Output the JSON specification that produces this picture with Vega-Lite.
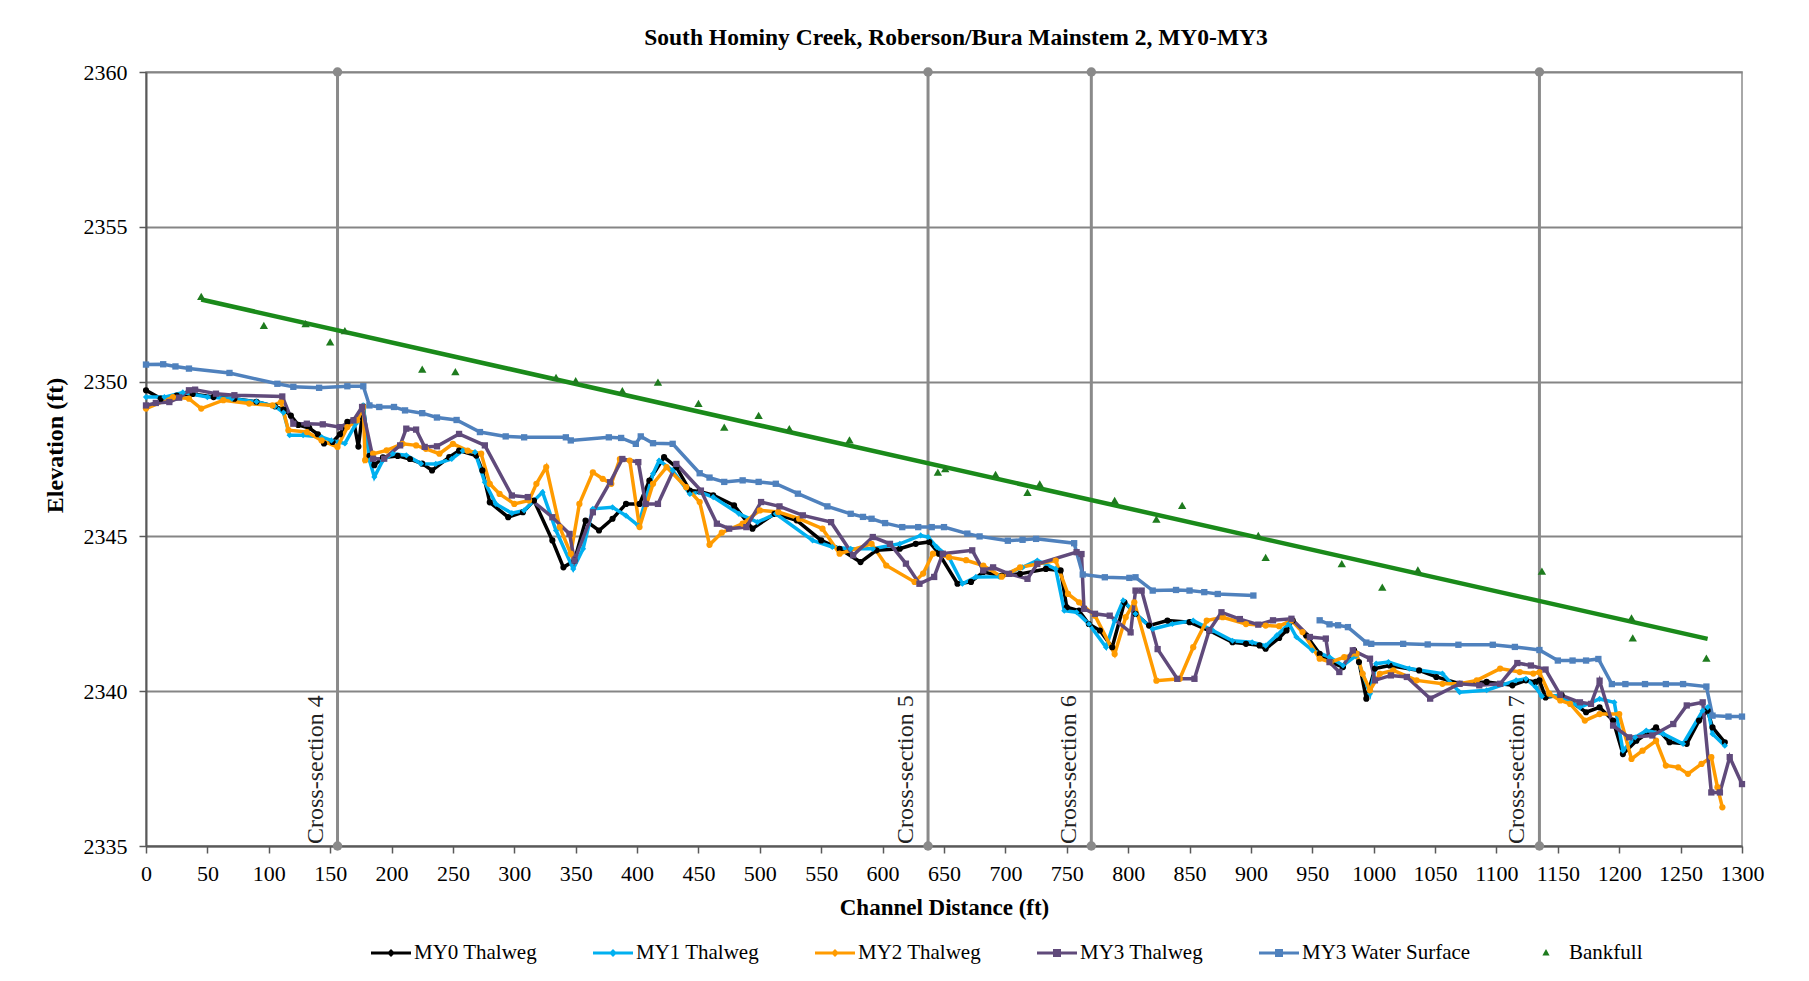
{
"$schema": "https://vega.github.io/schema/vega-lite/v6.json",
"width": 1596, "height": 774,
"autosize": {"type": "none"},
"padding": {"left": 146, "top": 72, "right": 67, "bottom": 135},
"background": "white",
"title": {"text": "South Hominy Creek, Roberson/Bura Mainstem 2, MY0-MY3", "font": "Liberation Serif", "fontSize": 23.5, "fontWeight": "bold", "color": "#000000", "anchor": "middle", "offset": 12, "dx": 12},
"config": {
  "view": {"stroke": "#8c8c8c", "strokeWidth": 1.5},
  "axis": {"labelFont": "Liberation Serif", "titleFont": "Liberation Serif", "labelColor": "#000000", "titleColor": "#000000"}
},
"datasets": {
"xs": [
{"label": "Cross-section 4", "x": 156, "y": 2335}, {"label": "Cross-section 4", "x": 156, "y": 2360},
{"label": "Cross-section 5", "x": 637, "y": 2335}, {"label": "Cross-section 5", "x": 637, "y": 2360},
{"label": "Cross-section 6", "x": 770, "y": 2335}, {"label": "Cross-section 6", "x": 770, "y": 2360},
{"label": "Cross-section 7", "x": 1135, "y": 2335}, {"label": "Cross-section 7", "x": 1135, "y": 2360}
],
"trend": [{"x": 45, "y": 2352.65}, {"x": 1272, "y": 2341.69}],
"bank": [
{"series":"Bankfull","x":45,"y":2352.75},{"series":"Bankfull","x":96,"y":2351.82},{"series":"Bankfull","x":130,"y":2351.87},{"series":"Bankfull","x":150,"y":2351.28},{"series":"Bankfull","x":162,"y":2351.65},{"series":"Bankfull","x":225,"y":2350.4},{"series":"Bankfull","x":252,"y":2350.32},{"series":"Bankfull","x":334,"y":2350.14},{"series":"Bankfull","x":350,"y":2350.03},{"series":"Bankfull","x":388,"y":2349.71},{"series":"Bankfull","x":417,"y":2349.98},{"series":"Bankfull","x":450,"y":2349.3},{"series":"Bankfull","x":471,"y":2348.53},{"series":"Bankfull","x":499,"y":2348.91},{"series":"Bankfull","x":524,"y":2348.48},{"series":"Bankfull","x":573,"y":2348.12},{"series":"Bankfull","x":645,"y":2347.08},{"series":"Bankfull","x":651,"y":2347.19},{"series":"Bankfull","x":692,"y":2347.0},{"series":"Bankfull","x":718,"y":2346.42},{"series":"Bankfull","x":728,"y":2346.7},{"series":"Bankfull","x":789,"y":2346.16},{"series":"Bankfull","x":823,"y":2345.56},{"series":"Bankfull","x":844,"y":2346.0},{"series":"Bankfull","x":906,"y":2345.03},{"series":"Bankfull","x":912,"y":2344.32},{"series":"Bankfull","x":974,"y":2344.12},{"series":"Bankfull","x":1007,"y":2343.36},{"series":"Bankfull","x":1036,"y":2343.92},{"series":"Bankfull","x":1137,"y":2343.88},{"series":"Bankfull","x":1210,"y":2342.37},{"series":"Bankfull","x":1211,"y":2341.72},{"series":"Bankfull","x":1271,"y":2341.07}
],
"prof": [
{"series":"MY0 Thalweg","x":0,"y":2349.72},{"series":"MY0 Thalweg","x":12,"y":2349.45},{"series":"MY0 Thalweg","x":25,"y":2349.55},{"series":"MY0 Thalweg","x":38,"y":2349.6},{"series":"MY0 Thalweg","x":55,"y":2349.5},{"series":"MY0 Thalweg","x":72,"y":2349.45},{"series":"MY0 Thalweg","x":90,"y":2349.35},{"series":"MY0 Thalweg","x":105,"y":2349.2},{"series":"MY0 Thalweg","x":112,"y":2349.1},{"series":"MY0 Thalweg","x":118,"y":2348.9},{"series":"MY0 Thalweg","x":124,"y":2348.6},{"series":"MY0 Thalweg","x":133,"y":2348.5},{"series":"MY0 Thalweg","x":140,"y":2348.3},{"series":"MY0 Thalweg","x":145,"y":2348.0},{"series":"MY0 Thalweg","x":152,"y":2348.05},{"series":"MY0 Thalweg","x":158,"y":2348.3},{"series":"MY0 Thalweg","x":164,"y":2348.7},{"series":"MY0 Thalweg","x":169,"y":2348.75},{"series":"MY0 Thalweg","x":173,"y":2347.9},{"series":"MY0 Thalweg","x":177,"y":2349.2},{"series":"MY0 Thalweg","x":182,"y":2347.6},{"series":"MY0 Thalweg","x":186,"y":2347.3},{"series":"MY0 Thalweg","x":193,"y":2347.55},{"series":"MY0 Thalweg","x":205,"y":2347.6},{"series":"MY0 Thalweg","x":215,"y":2347.5},{"series":"MY0 Thalweg","x":225,"y":2347.35},{"series":"MY0 Thalweg","x":233,"y":2347.13},{"series":"MY0 Thalweg","x":247,"y":2347.56},{"series":"MY0 Thalweg","x":255,"y":2347.77},{"series":"MY0 Thalweg","x":269,"y":2347.61},{"series":"MY0 Thalweg","x":274,"y":2347.13},{"series":"MY0 Thalweg","x":280,"y":2346.1},{"series":"MY0 Thalweg","x":295,"y":2345.62},{"series":"MY0 Thalweg","x":307,"y":2345.78},{"series":"MY0 Thalweg","x":316,"y":2346.16},{"series":"MY0 Thalweg","x":331,"y":2344.87},{"series":"MY0 Thalweg","x":340,"y":2344.0},{"series":"MY0 Thalweg","x":349,"y":2344.22},{"series":"MY0 Thalweg","x":358,"y":2345.51},{"series":"MY0 Thalweg","x":369,"y":2345.19},{"series":"MY0 Thalweg","x":380,"y":2345.57},{"series":"MY0 Thalweg","x":391,"y":2346.05},{"series":"MY0 Thalweg","x":402,"y":2346.05},{"series":"MY0 Thalweg","x":410,"y":2346.8},{"series":"MY0 Thalweg","x":422,"y":2347.56},{"series":"MY0 Thalweg","x":432,"y":2347.24},{"series":"MY0 Thalweg","x":443,"y":2346.48},{"series":"MY0 Thalweg","x":451,"y":2346.45},{"series":"MY0 Thalweg","x":462,"y":2346.33},{"series":"MY0 Thalweg","x":479,"y":2346.0},{"series":"MY0 Thalweg","x":494,"y":2345.25},{"series":"MY0 Thalweg","x":512,"y":2345.73},{"series":"MY0 Thalweg","x":530,"y":2345.52},{"series":"MY0 Thalweg","x":550,"y":2344.87},{"series":"MY0 Thalweg","x":565,"y":2344.6},{"series":"MY0 Thalweg","x":582,"y":2344.17},{"series":"MY0 Thalweg","x":595,"y":2344.55},{"series":"MY0 Thalweg","x":614,"y":2344.6},{"series":"MY0 Thalweg","x":627,"y":2344.76},{"series":"MY0 Thalweg","x":638,"y":2344.82},{"series":"MY0 Thalweg","x":646,"y":2344.44},{"series":"MY0 Thalweg","x":661,"y":2343.47},{"series":"MY0 Thalweg","x":672,"y":2343.53},{"series":"MY0 Thalweg","x":682,"y":2343.85},{"series":"MY0 Thalweg","x":697,"y":2343.73},{"series":"MY0 Thalweg","x":712,"y":2343.79},{"series":"MY0 Thalweg","x":733,"y":2343.95},{"series":"MY0 Thalweg","x":745,"y":2343.9},{"series":"MY0 Thalweg","x":750,"y":2342.71},{"series":"MY0 Thalweg","x":760,"y":2342.6},{"series":"MY0 Thalweg","x":768,"y":2342.17},{"series":"MY0 Thalweg","x":777,"y":2341.96},{"series":"MY0 Thalweg","x":787,"y":2341.42},{"series":"MY0 Thalweg","x":797,"y":2342.87},{"series":"MY0 Thalweg","x":806,"y":2342.5},{"series":"MY0 Thalweg","x":817,"y":2342.12},{"series":"MY0 Thalweg","x":832,"y":2342.28},{"series":"MY0 Thalweg","x":850,"y":2342.23},{"series":"MY0 Thalweg","x":866,"y":2341.96},{"series":"MY0 Thalweg","x":885,"y":2341.58},{"series":"MY0 Thalweg","x":896,"y":2341.53},{"series":"MY0 Thalweg","x":907,"y":2341.48},{"series":"MY0 Thalweg","x":912,"y":2341.37},{"series":"MY0 Thalweg","x":923,"y":2341.72},{"series":"MY0 Thalweg","x":929,"y":2341.96},{"series":"MY0 Thalweg","x":934,"y":2342.29},{"series":"MY0 Thalweg","x":945,"y":2341.8},{"series":"MY0 Thalweg","x":956,"y":2341.21},{"series":"MY0 Thalweg","x":965,"y":2340.94},{"series":"MY0 Thalweg","x":975,"y":2340.78},{"series":"MY0 Thalweg","x":984,"y":2341.32},{"series":"MY0 Thalweg","x":988,"y":2340.94},{"series":"MY0 Thalweg","x":994,"y":2339.76},{"series":"MY0 Thalweg","x":1001,"y":2340.73},{"series":"MY0 Thalweg","x":1013,"y":2340.83},{"series":"MY0 Thalweg","x":1037,"y":2340.67},{"series":"MY0 Thalweg","x":1051,"y":2340.46},{"series":"MY0 Thalweg","x":1070,"y":2340.24},{"series":"MY0 Thalweg","x":1092,"y":2340.3},{"series":"MY0 Thalweg","x":1113,"y":2340.19},{"series":"MY0 Thalweg","x":1124,"y":2340.35},{"series":"MY0 Thalweg","x":1132,"y":2340.3},{"series":"MY0 Thalweg","x":1135,"y":2340.35},{"series":"MY0 Thalweg","x":1140,"y":2339.8},{"series":"MY0 Thalweg","x":1153,"y":2339.88},{"series":"MY0 Thalweg","x":1173,"y":2339.32},{"series":"MY0 Thalweg","x":1184,"y":2339.48},{"series":"MY0 Thalweg","x":1195,"y":2339.05},{"series":"MY0 Thalweg","x":1203,"y":2337.97},{"series":"MY0 Thalweg","x":1214,"y":2338.4},{"series":"MY0 Thalweg","x":1230,"y":2338.83},{"series":"MY0 Thalweg","x":1241,"y":2338.35},{"series":"MY0 Thalweg","x":1255,"y":2338.3},{"series":"MY0 Thalweg","x":1265,"y":2339.05},{"series":"MY0 Thalweg","x":1272,"y":2339.37},{"series":"MY0 Thalweg","x":1276,"y":2338.83},{"series":"MY0 Thalweg","x":1286,"y":2338.35},
{"series":"MY1 Thalweg","x":0,"y":2349.5},{"series":"MY1 Thalweg","x":15,"y":2349.5},{"series":"MY1 Thalweg","x":30,"y":2349.65},{"series":"MY1 Thalweg","x":50,"y":2349.5},{"series":"MY1 Thalweg","x":70,"y":2349.45},{"series":"MY1 Thalweg","x":90,"y":2349.35},{"series":"MY1 Thalweg","x":105,"y":2349.2},{"series":"MY1 Thalweg","x":112,"y":2349.0},{"series":"MY1 Thalweg","x":117,"y":2348.27},{"series":"MY1 Thalweg","x":128,"y":2348.27},{"series":"MY1 Thalweg","x":143,"y":2348.21},{"series":"MY1 Thalweg","x":151,"y":2348.1},{"series":"MY1 Thalweg","x":162,"y":2348.0},{"series":"MY1 Thalweg","x":171,"y":2348.64},{"series":"MY1 Thalweg","x":177,"y":2349.23},{"series":"MY1 Thalweg","x":182,"y":2347.46},{"series":"MY1 Thalweg","x":186,"y":2346.92},{"series":"MY1 Thalweg","x":193,"y":2347.46},{"series":"MY1 Thalweg","x":201,"y":2347.67},{"series":"MY1 Thalweg","x":212,"y":2347.62},{"series":"MY1 Thalweg","x":224,"y":2347.35},{"series":"MY1 Thalweg","x":236,"y":2347.34},{"series":"MY1 Thalweg","x":249,"y":2347.5},{"series":"MY1 Thalweg","x":258,"y":2347.77},{"series":"MY1 Thalweg","x":268,"y":2347.72},{"series":"MY1 Thalweg","x":276,"y":2346.75},{"series":"MY1 Thalweg","x":285,"y":2346.05},{"series":"MY1 Thalweg","x":298,"y":2345.75},{"series":"MY1 Thalweg","x":308,"y":2345.84},{"series":"MY1 Thalweg","x":323,"y":2346.43},{"series":"MY1 Thalweg","x":334,"y":2345.19},{"series":"MY1 Thalweg","x":348,"y":2343.95},{"series":"MY1 Thalweg","x":356,"y":2344.6},{"series":"MY1 Thalweg","x":364,"y":2345.89},{"series":"MY1 Thalweg","x":380,"y":2345.94},{"series":"MY1 Thalweg","x":391,"y":2345.67},{"series":"MY1 Thalweg","x":401,"y":2345.35},{"series":"MY1 Thalweg","x":413,"y":2347.02},{"series":"MY1 Thalweg","x":418,"y":2347.45},{"series":"MY1 Thalweg","x":429,"y":2347.13},{"series":"MY1 Thalweg","x":443,"y":2346.37},{"series":"MY1 Thalweg","x":451,"y":2346.43},{"series":"MY1 Thalweg","x":462,"y":2346.27},{"series":"MY1 Thalweg","x":483,"y":2345.73},{"series":"MY1 Thalweg","x":498,"y":2345.46},{"series":"MY1 Thalweg","x":513,"y":2345.73},{"series":"MY1 Thalweg","x":543,"y":2344.87},{"series":"MY1 Thalweg","x":559,"y":2344.66},{"series":"MY1 Thalweg","x":574,"y":2344.6},{"series":"MY1 Thalweg","x":592,"y":2344.6},{"series":"MY1 Thalweg","x":614,"y":2344.76},{"series":"MY1 Thalweg","x":631,"y":2345.03},{"series":"MY1 Thalweg","x":637,"y":2344.98},{"series":"MY1 Thalweg","x":644,"y":2344.66},{"series":"MY1 Thalweg","x":654,"y":2344.33},{"series":"MY1 Thalweg","x":665,"y":2343.47},{"series":"MY1 Thalweg","x":676,"y":2343.69},{"series":"MY1 Thalweg","x":695,"y":2343.7},{"series":"MY1 Thalweg","x":714,"y":2344.0},{"series":"MY1 Thalweg","x":726,"y":2344.22},{"series":"MY1 Thalweg","x":741,"y":2343.95},{"series":"MY1 Thalweg","x":748,"y":2342.6},{"series":"MY1 Thalweg","x":758,"y":2342.55},{"series":"MY1 Thalweg","x":768,"y":2342.17},{"series":"MY1 Thalweg","x":782,"y":2341.42},{"series":"MY1 Thalweg","x":789,"y":2342.28},{"series":"MY1 Thalweg","x":796,"y":2342.93},{"series":"MY1 Thalweg","x":806,"y":2342.5},{"series":"MY1 Thalweg","x":820,"y":2342.01},{"series":"MY1 Thalweg","x":836,"y":2342.17},{"series":"MY1 Thalweg","x":853,"y":2342.28},{"series":"MY1 Thalweg","x":869,"y":2341.96},{"series":"MY1 Thalweg","x":885,"y":2341.63},{"series":"MY1 Thalweg","x":901,"y":2341.58},{"series":"MY1 Thalweg","x":912,"y":2341.47},{"series":"MY1 Thalweg","x":921,"y":2341.8},{"series":"MY1 Thalweg","x":931,"y":2342.18},{"series":"MY1 Thalweg","x":937,"y":2341.75},{"series":"MY1 Thalweg","x":950,"y":2341.32},{"series":"MY1 Thalweg","x":964,"y":2341.1},{"series":"MY1 Thalweg","x":975,"y":2340.83},{"series":"MY1 Thalweg","x":986,"y":2341.16},{"series":"MY1 Thalweg","x":991,"y":2340.56},{"series":"MY1 Thalweg","x":997,"y":2339.92},{"series":"MY1 Thalweg","x":1002,"y":2340.89},{"series":"MY1 Thalweg","x":1012,"y":2340.94},{"series":"MY1 Thalweg","x":1029,"y":2340.73},{"series":"MY1 Thalweg","x":1056,"y":2340.57},{"series":"MY1 Thalweg","x":1070,"y":2339.97},{"series":"MY1 Thalweg","x":1092,"y":2340.03},{"series":"MY1 Thalweg","x":1116,"y":2340.35},{"series":"MY1 Thalweg","x":1124,"y":2340.4},{"series":"MY1 Thalweg","x":1132,"y":2340.13},{"series":"MY1 Thalweg","x":1137,"y":2339.83},{"series":"MY1 Thalweg","x":1151,"y":2339.86},{"series":"MY1 Thalweg","x":1168,"y":2339.48},{"series":"MY1 Thalweg","x":1184,"y":2339.75},{"series":"MY1 Thalweg","x":1196,"y":2339.64},{"series":"MY1 Thalweg","x":1203,"y":2338.08},{"series":"MY1 Thalweg","x":1213,"y":2338.51},{"series":"MY1 Thalweg","x":1222,"y":2338.73},{"series":"MY1 Thalweg","x":1236,"y":2338.62},{"series":"MY1 Thalweg","x":1252,"y":2338.3},{"series":"MY1 Thalweg","x":1268,"y":2339.37},{"series":"MY1 Thalweg","x":1272,"y":2339.48},{"series":"MY1 Thalweg","x":1276,"y":2338.62},{"series":"MY1 Thalweg","x":1286,"y":2338.24},
{"series":"MY2 Thalweg","x":0,"y":2349.13},{"series":"MY2 Thalweg","x":22,"y":2349.5},{"series":"MY2 Thalweg","x":35,"y":2349.45},{"series":"MY2 Thalweg","x":45,"y":2349.13},{"series":"MY2 Thalweg","x":63,"y":2349.4},{"series":"MY2 Thalweg","x":84,"y":2349.29},{"series":"MY2 Thalweg","x":103,"y":2349.23},{"series":"MY2 Thalweg","x":110,"y":2349.34},{"series":"MY2 Thalweg","x":116,"y":2348.43},{"series":"MY2 Thalweg","x":131,"y":2348.37},{"series":"MY2 Thalweg","x":143,"y":2348.1},{"series":"MY2 Thalweg","x":156,"y":2347.89},{"series":"MY2 Thalweg","x":164,"y":2348.53},{"series":"MY2 Thalweg","x":172,"y":2348.75},{"series":"MY2 Thalweg","x":177,"y":2349.18},{"series":"MY2 Thalweg","x":178.5,"y":2347.46},{"series":"MY2 Thalweg","x":185,"y":2347.67},{"series":"MY2 Thalweg","x":196,"y":2347.78},{"series":"MY2 Thalweg","x":209,"y":2347.99},{"series":"MY2 Thalweg","x":220,"y":2347.94},{"series":"MY2 Thalweg","x":228,"y":2347.83},{"series":"MY2 Thalweg","x":239,"y":2347.67},{"series":"MY2 Thalweg","x":250,"y":2347.99},{"series":"MY2 Thalweg","x":262,"y":2347.77},{"series":"MY2 Thalweg","x":273,"y":2347.67},{"series":"MY2 Thalweg","x":280,"y":2346.7},{"series":"MY2 Thalweg","x":288,"y":2346.37},{"series":"MY2 Thalweg","x":300,"y":2346.05},{"series":"MY2 Thalweg","x":312,"y":2346.16},{"series":"MY2 Thalweg","x":318,"y":2346.7},{"series":"MY2 Thalweg","x":326,"y":2347.24},{"series":"MY2 Thalweg","x":337,"y":2345.3},{"series":"MY2 Thalweg","x":346,"y":2344.44},{"series":"MY2 Thalweg","x":353,"y":2346.05},{"series":"MY2 Thalweg","x":364,"y":2347.07},{"series":"MY2 Thalweg","x":372,"y":2346.86},{"series":"MY2 Thalweg","x":379,"y":2346.7},{"series":"MY2 Thalweg","x":386,"y":2347.5},{"series":"MY2 Thalweg","x":394,"y":2347.45},{"series":"MY2 Thalweg","x":402,"y":2345.3},{"series":"MY2 Thalweg","x":413,"y":2346.7},{"series":"MY2 Thalweg","x":424,"y":2347.24},{"series":"MY2 Thalweg","x":440,"y":2346.59},{"series":"MY2 Thalweg","x":451,"y":2346.11},{"series":"MY2 Thalweg","x":459,"y":2344.73},{"series":"MY2 Thalweg","x":469,"y":2345.12},{"series":"MY2 Thalweg","x":486,"y":2345.41},{"series":"MY2 Thalweg","x":500,"y":2345.84},{"series":"MY2 Thalweg","x":515,"y":2345.79},{"series":"MY2 Thalweg","x":532,"y":2345.57},{"series":"MY2 Thalweg","x":551,"y":2345.25},{"series":"MY2 Thalweg","x":565,"y":2344.44},{"series":"MY2 Thalweg","x":591,"y":2344.76},{"series":"MY2 Thalweg","x":603,"y":2344.06},{"series":"MY2 Thalweg","x":626,"y":2343.53},{"series":"MY2 Thalweg","x":633,"y":2343.8},{"series":"MY2 Thalweg","x":641,"y":2344.44},{"series":"MY2 Thalweg","x":654,"y":2344.33},{"series":"MY2 Thalweg","x":668,"y":2344.23},{"series":"MY2 Thalweg","x":682,"y":2344.06},{"series":"MY2 Thalweg","x":697,"y":2343.7},{"series":"MY2 Thalweg","x":712,"y":2344.0},{"series":"MY2 Thalweg","x":726,"y":2344.11},{"series":"MY2 Thalweg","x":741,"y":2344.22},{"series":"MY2 Thalweg","x":751,"y":2343.14},{"series":"MY2 Thalweg","x":760,"y":2342.87},{"series":"MY2 Thalweg","x":773,"y":2342.44},{"series":"MY2 Thalweg","x":789,"y":2341.2},{"series":"MY2 Thalweg","x":798,"y":2342.39},{"series":"MY2 Thalweg","x":805,"y":2342.87},{"series":"MY2 Thalweg","x":823,"y":2340.34},{"series":"MY2 Thalweg","x":842,"y":2340.4},{"series":"MY2 Thalweg","x":853,"y":2341.42},{"series":"MY2 Thalweg","x":864,"y":2342.28},{"series":"MY2 Thalweg","x":877,"y":2342.39},{"series":"MY2 Thalweg","x":896,"y":2342.17},{"series":"MY2 Thalweg","x":912,"y":2342.12},{"series":"MY2 Thalweg","x":923,"y":2342.1},{"series":"MY2 Thalweg","x":933,"y":2342.29},{"series":"MY2 Thalweg","x":942,"y":2341.91},{"series":"MY2 Thalweg","x":956,"y":2341.05},{"series":"MY2 Thalweg","x":965,"y":2340.94},{"series":"MY2 Thalweg","x":976,"y":2341.1},{"series":"MY2 Thalweg","x":986,"y":2341.21},{"series":"MY2 Thalweg","x":991,"y":2340.56},{"series":"MY2 Thalweg","x":997,"y":2340.03},{"series":"MY2 Thalweg","x":1005,"y":2340.56},{"series":"MY2 Thalweg","x":1016,"y":2340.67},{"series":"MY2 Thalweg","x":1035,"y":2340.35},{"series":"MY2 Thalweg","x":1056,"y":2340.24},{"series":"MY2 Thalweg","x":1070,"y":2340.24},{"series":"MY2 Thalweg","x":1084,"y":2340.35},{"series":"MY2 Thalweg","x":1103,"y":2340.73},{"series":"MY2 Thalweg","x":1119,"y":2340.62},{"series":"MY2 Thalweg","x":1130,"y":2340.57},{"series":"MY2 Thalweg","x":1135,"y":2340.61},{"series":"MY2 Thalweg","x":1143,"y":2339.92},{"series":"MY2 Thalweg","x":1152,"y":2339.7},{"series":"MY2 Thalweg","x":1160,"y":2339.59},{"series":"MY2 Thalweg","x":1172,"y":2339.05},{"series":"MY2 Thalweg","x":1184,"y":2339.26},{"series":"MY2 Thalweg","x":1200,"y":2339.26},{"series":"MY2 Thalweg","x":1210,"y":2337.81},{"series":"MY2 Thalweg","x":1219,"y":2338.08},{"series":"MY2 Thalweg","x":1230,"y":2338.4},{"series":"MY2 Thalweg","x":1238,"y":2337.6},{"series":"MY2 Thalweg","x":1248,"y":2337.54},{"series":"MY2 Thalweg","x":1256,"y":2337.33},{"series":"MY2 Thalweg","x":1267,"y":2337.65},{"series":"MY2 Thalweg","x":1275,"y":2337.87},{"series":"MY2 Thalweg","x":1280,"y":2336.9},{"series":"MY2 Thalweg","x":1284,"y":2336.25},
{"series":"MY3 Thalweg","x":0,"y":2349.23},{"series":"MY3 Thalweg","x":8,"y":2349.31},{"series":"MY3 Thalweg","x":19,"y":2349.34},{"series":"MY3 Thalweg","x":27,"y":2349.48},{"series":"MY3 Thalweg","x":35,"y":2349.72},{"series":"MY3 Thalweg","x":40,"y":2349.74},{"series":"MY3 Thalweg","x":57,"y":2349.61},{"series":"MY3 Thalweg","x":72,"y":2349.56},{"series":"MY3 Thalweg","x":111,"y":2349.52},{"series":"MY3 Thalweg","x":120,"y":2348.64},{"series":"MY3 Thalweg","x":131,"y":2348.64},{"series":"MY3 Thalweg","x":144,"y":2348.62},{"series":"MY3 Thalweg","x":158,"y":2348.53},{"series":"MY3 Thalweg","x":169,"y":2348.75},{"series":"MY3 Thalweg","x":176,"y":2349.18},{"series":"MY3 Thalweg","x":185,"y":2347.51},{"series":"MY3 Thalweg","x":194,"y":2347.51},{"series":"MY3 Thalweg","x":207,"y":2347.94},{"series":"MY3 Thalweg","x":212,"y":2348.48},{"series":"MY3 Thalweg","x":220,"y":2348.45},{"series":"MY3 Thalweg","x":227,"y":2347.89},{"series":"MY3 Thalweg","x":237,"y":2347.91},{"series":"MY3 Thalweg","x":255,"y":2348.31},{"series":"MY3 Thalweg","x":276,"y":2347.94},{"series":"MY3 Thalweg","x":298,"y":2346.32},{"series":"MY3 Thalweg","x":311,"y":2346.27},{"series":"MY3 Thalweg","x":331,"y":2345.62},{"series":"MY3 Thalweg","x":345,"y":2345.08},{"series":"MY3 Thalweg","x":349,"y":2344.22},{"series":"MY3 Thalweg","x":364,"y":2345.78},{"series":"MY3 Thalweg","x":378,"y":2346.75},{"series":"MY3 Thalweg","x":388,"y":2347.5},{"series":"MY3 Thalweg","x":401,"y":2347.4},{"series":"MY3 Thalweg","x":407,"y":2346.05},{"series":"MY3 Thalweg","x":417,"y":2346.05},{"series":"MY3 Thalweg","x":432,"y":2347.34},{"series":"MY3 Thalweg","x":452,"y":2346.48},{"series":"MY3 Thalweg","x":465,"y":2345.41},{"series":"MY3 Thalweg","x":475,"y":2345.25},{"series":"MY3 Thalweg","x":489,"y":2345.3},{"series":"MY3 Thalweg","x":501,"y":2346.11},{"series":"MY3 Thalweg","x":516,"y":2345.97},{"series":"MY3 Thalweg","x":535,"y":2345.68},{"series":"MY3 Thalweg","x":558,"y":2345.46},{"series":"MY3 Thalweg","x":576,"y":2344.39},{"series":"MY3 Thalweg","x":592,"y":2344.98},{"series":"MY3 Thalweg","x":606,"y":2344.76},{"series":"MY3 Thalweg","x":619,"y":2344.12},{"series":"MY3 Thalweg","x":630,"y":2343.47},{"series":"MY3 Thalweg","x":642,"y":2343.69},{"series":"MY3 Thalweg","x":649,"y":2344.44},{"series":"MY3 Thalweg","x":673,"y":2344.55},{"series":"MY3 Thalweg","x":682,"y":2343.9},{"series":"MY3 Thalweg","x":690,"y":2344.0},{"series":"MY3 Thalweg","x":703,"y":2343.79},{"series":"MY3 Thalweg","x":718,"y":2343.63},{"series":"MY3 Thalweg","x":726,"y":2344.11},{"series":"MY3 Thalweg","x":758,"y":2344.49},{"series":"MY3 Thalweg","x":762,"y":2344.43},{"series":"MY3 Thalweg","x":764,"y":2342.66},{"series":"MY3 Thalweg","x":773,"y":2342.5},{"series":"MY3 Thalweg","x":785,"y":2342.44},{"series":"MY3 Thalweg","x":802,"y":2341.9},{"series":"MY3 Thalweg","x":806,"y":2343.25},{"series":"MY3 Thalweg","x":811,"y":2343.25},{"series":"MY3 Thalweg","x":824,"y":2341.36},{"series":"MY3 Thalweg","x":840,"y":2340.4},{"series":"MY3 Thalweg","x":854,"y":2340.4},{"series":"MY3 Thalweg","x":866,"y":2341.96},{"series":"MY3 Thalweg","x":876,"y":2342.55},{"series":"MY3 Thalweg","x":891,"y":2342.33},{"series":"MY3 Thalweg","x":906,"y":2342.15},{"series":"MY3 Thalweg","x":918,"y":2342.29},{"series":"MY3 Thalweg","x":933,"y":2342.34},{"series":"MY3 Thalweg","x":948,"y":2341.75},{"series":"MY3 Thalweg","x":961,"y":2341.7},{"series":"MY3 Thalweg","x":964,"y":2340.94},{"series":"MY3 Thalweg","x":972,"y":2340.62},{"series":"MY3 Thalweg","x":983,"y":2341.32},{"series":"MY3 Thalweg","x":997,"y":2341.05},{"series":"MY3 Thalweg","x":1001,"y":2340.35},{"series":"MY3 Thalweg","x":1014,"y":2340.51},{"series":"MY3 Thalweg","x":1027,"y":2340.46},{"series":"MY3 Thalweg","x":1046,"y":2339.76},{"series":"MY3 Thalweg","x":1070,"y":2340.24},{"series":"MY3 Thalweg","x":1086,"y":2340.19},{"series":"MY3 Thalweg","x":1103,"y":2340.24},{"series":"MY3 Thalweg","x":1117,"y":2340.91},{"series":"MY3 Thalweg","x":1128,"y":2340.83},{"series":"MY3 Thalweg","x":1140,"y":2340.7},{"series":"MY3 Thalweg","x":1152,"y":2339.88},{"series":"MY3 Thalweg","x":1168,"y":2339.64},{"series":"MY3 Thalweg","x":1177,"y":2339.59},{"series":"MY3 Thalweg","x":1184,"y":2340.34},{"series":"MY3 Thalweg","x":1195,"y":2338.89},{"series":"MY3 Thalweg","x":1208,"y":2338.51},{"series":"MY3 Thalweg","x":1227,"y":2338.57},{"series":"MY3 Thalweg","x":1244,"y":2338.94},{"series":"MY3 Thalweg","x":1255,"y":2339.54},{"series":"MY3 Thalweg","x":1268,"y":2339.64},{"series":"MY3 Thalweg","x":1275,"y":2336.73},{"series":"MY3 Thalweg","x":1282,"y":2336.73},{"series":"MY3 Thalweg","x":1290,"y":2337.87},{"series":"MY3 Thalweg","x":1300,"y":2337.0},
{"series":"MY3 Water Surface","x":0,"y":2350.55},{"series":"MY3 Water Surface","x":14,"y":2350.56},{"series":"MY3 Water Surface","x":24,"y":2350.49},{"series":"MY3 Water Surface","x":35,"y":2350.42},{"series":"MY3 Water Surface","x":68,"y":2350.28},{"series":"MY3 Water Surface","x":107,"y":2349.93},{"series":"MY3 Water Surface","x":120,"y":2349.83},{"series":"MY3 Water Surface","x":141,"y":2349.8},{"series":"MY3 Water Surface","x":164,"y":2349.85},{"series":"MY3 Water Surface","x":177,"y":2349.85},{"series":"MY3 Water Surface","x":182,"y":2349.23},{"series":"MY3 Water Surface","x":190,"y":2349.18},{"series":"MY3 Water Surface","x":202,"y":2349.18},{"series":"MY3 Water Surface","x":211,"y":2349.07},{"series":"MY3 Water Surface","x":225,"y":2348.98},{"series":"MY3 Water Surface","x":237,"y":2348.84},{"series":"MY3 Water Surface","x":253,"y":2348.76},{"series":"MY3 Water Surface","x":272,"y":2348.37},{"series":"MY3 Water Surface","x":293,"y":2348.23},{"series":"MY3 Water Surface","x":308,"y":2348.2},{"series":"MY3 Water Surface","x":342,"y":2348.2},{"series":"MY3 Water Surface","x":346,"y":2348.1},{"series":"MY3 Water Surface","x":377,"y":2348.2},{"series":"MY3 Water Surface","x":387,"y":2348.18},{"series":"MY3 Water Surface","x":399,"y":2347.99},{"series":"MY3 Water Surface","x":403,"y":2348.23},{"series":"MY3 Water Surface","x":413,"y":2348.01},{"series":"MY3 Water Surface","x":429,"y":2347.99},{"series":"MY3 Water Surface","x":451,"y":2347.04},{"series":"MY3 Water Surface","x":459,"y":2346.9},{"series":"MY3 Water Surface","x":471,"y":2346.76},{"series":"MY3 Water Surface","x":486,"y":2346.81},{"series":"MY3 Water Surface","x":499,"y":2346.76},{"series":"MY3 Water Surface","x":513,"y":2346.7},{"series":"MY3 Water Surface","x":531,"y":2346.38},{"series":"MY3 Water Surface","x":555,"y":2345.97},{"series":"MY3 Water Surface","x":574,"y":2345.73},{"series":"MY3 Water Surface","x":584,"y":2345.63},{"series":"MY3 Water Surface","x":591,"y":2345.57},{"series":"MY3 Water Surface","x":602,"y":2345.43},{"series":"MY3 Water Surface","x":616,"y":2345.3},{"series":"MY3 Water Surface","x":629,"y":2345.3},{"series":"MY3 Water Surface","x":640,"y":2345.3},{"series":"MY3 Water Surface","x":650,"y":2345.3},{"series":"MY3 Water Surface","x":669,"y":2345.09},{"series":"MY3 Water Surface","x":679,"y":2345.0},{"series":"MY3 Water Surface","x":702,"y":2344.86},{"series":"MY3 Water Surface","x":714,"y":2344.89},{"series":"MY3 Water Surface","x":725,"y":2344.92},{"series":"MY3 Water Surface","x":756,"y":2344.78},{"series":"MY3 Water Surface","x":763,"y":2343.77},{"series":"MY3 Water Surface","x":781,"y":2343.68},{"series":"MY3 Water Surface","x":801,"y":2343.66},{"series":"MY3 Water Surface","x":806,"y":2343.68},{"series":"MY3 Water Surface","x":820,"y":2343.25},{"series":"MY3 Water Surface","x":839,"y":2343.27},{"series":"MY3 Water Surface","x":850,"y":2343.25},{"series":"MY3 Water Surface","x":862,"y":2343.2},{"series":"MY3 Water Surface","x":873,"y":2343.14},{"series":"MY3 Water Surface","x":902,"y":2343.09},{"series":"MY3 Water Surface","x":930,"y":null},{"series":"MY3 Water Surface","x":956,"y":2342.29},{"series":"MY3 Water Surface","x":964,"y":2342.16},{"series":"MY3 Water Surface","x":971,"y":2342.13},{"series":"MY3 Water Surface","x":979,"y":2342.07},{"series":"MY3 Water Surface","x":994,"y":2341.57},{"series":"MY3 Water Surface","x":998,"y":2341.53},{"series":"MY3 Water Surface","x":1024,"y":2341.53},{"series":"MY3 Water Surface","x":1044,"y":2341.51},{"series":"MY3 Water Surface","x":1069,"y":2341.5},{"series":"MY3 Water Surface","x":1097,"y":2341.5},{"series":"MY3 Water Surface","x":1115,"y":2341.43},{"series":"MY3 Water Surface","x":1135,"y":2341.33},{"series":"MY3 Water Surface","x":1150,"y":2340.99},{"series":"MY3 Water Surface","x":1162,"y":2340.99},{"series":"MY3 Water Surface","x":1173,"y":2340.99},{"series":"MY3 Water Surface","x":1183,"y":2341.04},{"series":"MY3 Water Surface","x":1194,"y":2340.23},{"series":"MY3 Water Surface","x":1205,"y":2340.23},{"series":"MY3 Water Surface","x":1221,"y":2340.23},{"series":"MY3 Water Surface","x":1238,"y":2340.23},{"series":"MY3 Water Surface","x":1252,"y":2340.23},{"series":"MY3 Water Surface","x":1271,"y":2340.15},{"series":"MY3 Water Surface","x":1276,"y":2339.21},{"series":"MY3 Water Surface","x":1289,"y":2339.18},{"series":"MY3 Water Surface","x":1300,"y":2339.18}
]
},
"layer": [
{
 "data": {"name": "xs"},
 "mark": {"type": "line", "color": "#8a8a8a", "strokeWidth": 3, "point": {"filled": true, "size": 90, "color": "#8a8a8a"}},
 "encoding": {
  "x": {"field": "x", "type": "quantitative", "title": "Channel Distance (ft)", "scale": {"domain": [0, 1300], "nice": false, "zero": false},
        "axis": {"values": [0,50,100,150,200,250,300,350,400,450,500,550,600,650,700,750,800,850,900,950,1000,1050,1100,1150,1200,1250,1300], "format": "d", "labelFontSize": 22, "titleFontSize": 23, "titleFontWeight": "bold", "grid": false, "domainColor": "#595959", "domainWidth": 2, "tickColor": "#595959", "tickSize": 7, "tickWidth": 1.5, "labelPadding": 10, "labelOverlap": false, "labelFlush": false, "titlePadding": 12}},
  "y": {"field": "y", "type": "quantitative", "title": "Elevation (ft)", "scale": {"domain": [2335, 2360], "nice": false, "zero": false},
        "axis": {"values": [2335,2340,2345,2350,2355,2360], "format": "d", "labelFontSize": 22, "titleFontSize": 24, "titleFontWeight": "bold", "grid": true, "gridColor": "#858585", "gridWidth": 1.8, "domainColor": "#595959", "domainWidth": 2, "tickColor": "#595959", "tickSize": 7, "tickWidth": 1.5, "labelPadding": 12, "titlePadding": 16, "titleY": 373}},
  "detail": {"field": "label"}
 }
},
{
 "data": {"name": "xs"},
 "transform": [{"filter": "datum.y == 2335"}],
 "mark": {"type": "text", "angle": 270, "align": "left", "baseline": "middle", "dx": 2, "dy": -22, "font": "Liberation Serif", "fontSize": 24, "color": "#222222"},
 "encoding": {
  "x": {"field": "x", "type": "quantitative", "title": "Channel Distance (ft)"},
  "y": {"field": "y", "type": "quantitative", "title": "Elevation (ft)"},
  "text": {"field": "label"}
 }
},
{
 "data": {"name": "trend"},
 "mark": {"type": "line", "color": "#1a8a1a", "strokeWidth": 4.5},
 "encoding": {
  "x": {"field": "x", "type": "quantitative", "title": "Channel Distance (ft)"},
  "y": {"field": "y", "type": "quantitative", "title": "Elevation (ft)"}
 }
},
{
 "data": {"name": "prof"},
 "mark": {"type": "line"},
 "encoding": {
  "x": {"field": "x", "type": "quantitative", "title": "Channel Distance (ft)"},
  "y": {"field": "y", "type": "quantitative", "title": "Elevation (ft)"},
  "strokeWidth": {"field": "series", "type": "nominal", "scale": {"domain": ["MY0 Thalweg","MY1 Thalweg","MY2 Thalweg","MY3 Thalweg","MY3 Water Surface"], "range": [3.5, 3.5, 3.5, 3, 3]}, "legend": null},
  "color": {"field": "series", "type": "nominal",
    "scale": {"domain": ["MY0 Thalweg","MY1 Thalweg","MY2 Thalweg","MY3 Thalweg","MY3 Water Surface","Bankfull"], "range": ["#000000","#00b0f0","#ff9b00","#604a7b","#4f81bd","#1e7b1e"]},
    "legend": {"title": null, "orient": "none", "legendX": 225, "legendY": 861, "direction": "horizontal", "columns": 6, "columnPadding": 55, "padding": 0,
      "labelFont": "Liberation Serif", "labelFontSize": 21, "labelColor": "#000000", "labelLimit": 400, "labelOffset": 3, "symbolSize": 1600,
      "encode": {"symbols": {"update": {
        "shape": {"signal": "datum.value === 'Bankfull' ? 'M0,-0.2L0.18,0.12L-0.18,0.12Z' : ((datum.value === 'MY3 Thalweg' || datum.value === 'MY3 Water Surface') ? 'M-1,-0.075H1V0.075H-1Z M-0.2,-0.2H0.2V0.2H-0.2Z' : 'M-1,-0.075H1V0.075H-1Z M0,-0.2L0.2,0L0,0.2L-0.2,0Z')"},
        "fill": {"scale": "color", "field": "value"},
        "stroke": {"value": "transparent"},
        "strokeWidth": {"value": 0},
        "opacity": {"value": 1}}}}}}
 }
},
{
 "data": {"name": "prof"},
 "mark": {"type": "point", "filled": true, "opacity": 1},
 "encoding": {
  "x": {"field": "x", "type": "quantitative", "title": "Channel Distance (ft)"},
  "y": {"field": "y", "type": "quantitative", "title": "Elevation (ft)"},
  "color": {"field": "series", "type": "nominal"},
  "shape": {"field": "series", "type": "nominal", "scale": {"domain": ["MY0 Thalweg","MY1 Thalweg","MY2 Thalweg","MY3 Thalweg","MY3 Water Surface"], "range": ["circle","diamond","circle","square","square"]}, "legend": null},
  "size": {"field": "series", "type": "nominal", "scale": {"domain": ["MY0 Thalweg","MY1 Thalweg","MY2 Thalweg","MY3 Thalweg","MY3 Water Surface"], "range": [38, 40, 38, 70, 95]}, "legend": null}
 }
},
{
 "data": {"name": "bank"},
 "mark": {"type": "point", "filled": true, "opacity": 1, "shape": "triangle-up", "size": 70},
 "encoding": {
  "x": {"field": "x", "type": "quantitative", "title": "Channel Distance (ft)"},
  "y": {"field": "y", "type": "quantitative", "title": "Elevation (ft)"},
  "color": {"field": "series", "type": "nominal"}
 }
}
]
}
